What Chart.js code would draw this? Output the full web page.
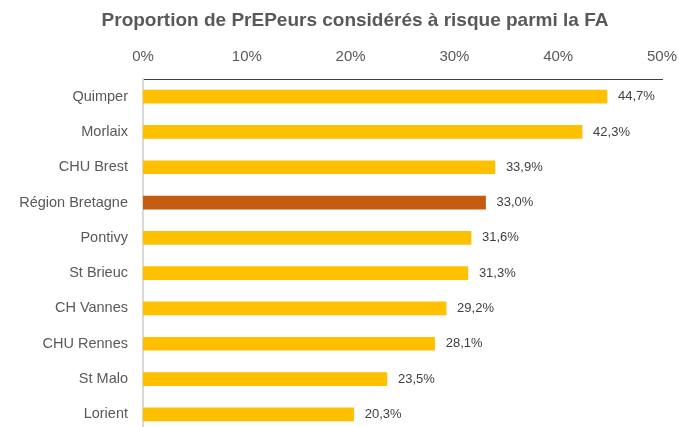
<!DOCTYPE html>
<html>
<head>
<meta charset="utf-8">
<script src="https://cdn.jsdelivr.net/npm/chart.js@4"></script>
<style>
  html, body { margin: 0; padding: 0; background: #fff; overflow: hidden; }
  canvas { display: block; }
</style>
</head>
<body>
<canvas id="chart" width="679" height="432"></canvas>
<script>
const categories = ['Quimper', 'Morlaix', 'CHU Brest', 'Région Bretagne', 'Pontivy',
  'St Brieuc', 'CH Vannes', 'CHU Rennes', 'St Malo', 'Lorient'];
const values = [44.7, 42.3, 33.9, 33.0, 31.6, 31.3, 29.2, 28.1, 23.5, 20.3];
const highlight = 'Région Bretagne';
const xTicks = [0, 10, 20, 30, 40, 50];
const chartTitle = 'Proportion de PrEPeurs considérés à risque parmi la FA';

const fontFamily = '"Liberation Sans", Arial, sans-serif';

// title drawn by hand so it can sit a bit right of centre, like the original
const titlePlugin = {
  id: 'titlePlugin',
  afterDraw(chart) {
    const ctx = chart.ctx;
    ctx.save();
    ctx.font = 'bold 19px ' + fontFamily;
    ctx.fillStyle = '#595959';
    ctx.textAlign = 'center';
    ctx.textBaseline = 'middle';
    ctx.fillText(chartTitle, 355, 21);
    ctx.restore();
  }
};

// value labels at the end of each bar, french decimal comma
const barLabels = {
  id: 'barLabels',
  afterDatasetsDraw(chart) {
    const ctx = chart.ctx;
    const meta = chart.getDatasetMeta(0);
    ctx.save();
    ctx.font = '13px ' + fontFamily;
    ctx.fillStyle = '#404040';
    ctx.textBaseline = 'middle';
    ctx.textAlign = 'left';
    meta.data.forEach((bar, i) => {
      ctx.fillText(values[i].toFixed(1).replace('.', ',') + '%', bar.x + 11, bar.y);
    });
    ctx.restore();
  }
};

new Chart(document.getElementById('chart').getContext('2d'), {
  type: 'bar',
  data: {
    labels: categories,
    datasets: [{
      data: values,
      backgroundColor: categories.map(c => c === highlight ? '#C55A11' : '#FFC000'),
      barThickness: 13
    }]
  },
  options: {
    indexAxis: 'y',
    responsive: false,
    animation: false,
    layout: { padding: { left: 0, right: 17, top: 0, bottom: 0 } },
    plugins: {
      legend: { display: false },
      tooltip: { enabled: false },
      title: { display: false }
    },
    scales: {
      x: {
        position: 'top',
        min: xTicks[0],
        max: xTicks[xTicks.length - 1],
        afterBuildTicks: axis => { axis.ticks = xTicks.map(v => ({ value: v })); },
        afterFit: axis => {
          axis.height = 79;
          axis.paddingLeft = 0;
          axis.paddingRight = 0;
        },
        grid: { display: false, drawTicks: false },
        border: { display: true, color: '#404040', width: 1 },
        ticks: {
          padding: 13,
          maxRotation: 0,
          color: '#595959',
          font: { family: fontFamily, size: 15 },
          callback: v => v + '%'
        }
      },
      y: {
        afterFit: axis => {
          axis.width = 143;
          axis.paddingTop = 0;
          axis.paddingBottom = 0;
        },
        grid: { display: false, drawTicks: false },
        border: { display: true, color: '#D9D9D9', width: 2 },
        ticks: {
          padding: 15,
          color: '#595959',
          font: { family: fontFamily, size: 14.5 }
        }
      }
    }
  },
  plugins: [barLabels, titlePlugin]
});
</script>
</body>
</html>
